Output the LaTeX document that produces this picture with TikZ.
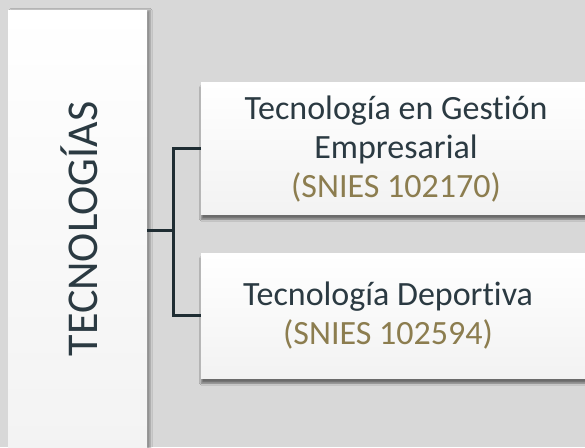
\documentclass[tikz,border=0pt]{standalone}
\usepackage{fontspec}
\setmainfont{Carlito}[RawFeature=-liga]
\usetikzlibrary{shadows.blur}
\definecolor{bg}{HTML}{D8D8D8}
\definecolor{txt}{HTML}{2B3A42}
\definecolor{snies}{HTML}{8C7D4F}
\definecolor{conn}{HTML}{1F2D33}
\tikzset{
  card/.style={rectangle, draw=none, top color=white, bottom color=black!5, anchor=north west, inner sep=0pt,
    blur shadow={shadow xshift=0pt, shadow yshift=-5pt, shadow blur steps=6, shadow opacity=50}},
  sidecard/.style={rectangle, draw=none, top color=white, bottom color=black!5, anchor=north west, inner sep=0pt,
    blur shadow={shadow xshift=3pt, shadow yshift=0pt, shadow blur steps=5, shadow opacity=35}},
  lbl/.style={font=\fontsize{34}{39}\selectfont, text=txt, align=center},
  biglbl/.style={font=\fontsize{44}{50}\selectfont, text=txt},
  connector/.style={draw=conn, line width=3pt}
}
\begin{document}
\begin{tikzpicture}[x=1pt,y=-1pt]
\fill[bg] (0,0) rectangle (585,447);
\useasboundingbox (0,0) rectangle (585,447);
\begin{scope}
\clip (0,0) rectangle (585,447);
\node[sidecard, minimum width=139pt, minimum height=460pt] (side) at (8,10) {};
\node[card, minimum width=400pt, minimum height=132pt] (b1) at (201,82) {};
\node[card, minimum width=400pt, minimum height=125pt] (b2) at (201,253) {};
\end{scope}
\node[biglbl, rotate=90] (t0) at (79,229) {TECNOLOGÍAS};
\node[lbl] (t1) at (396,149) {Tecnología en Gestión\\Empresarial\\\textcolor{snies}{(SNIES 102170)}};
\node[lbl] (t2) at (388,316) {Tecnología Deportiva\\\textcolor{snies}{(SNIES 102594)}};
\coordinate (j) at (173,230);
\draw[connector] (side.east |- j) -- (j);
\draw[connector] (b1.west) -| (j) |- (b2.west);
\end{tikzpicture}
\end{document}
